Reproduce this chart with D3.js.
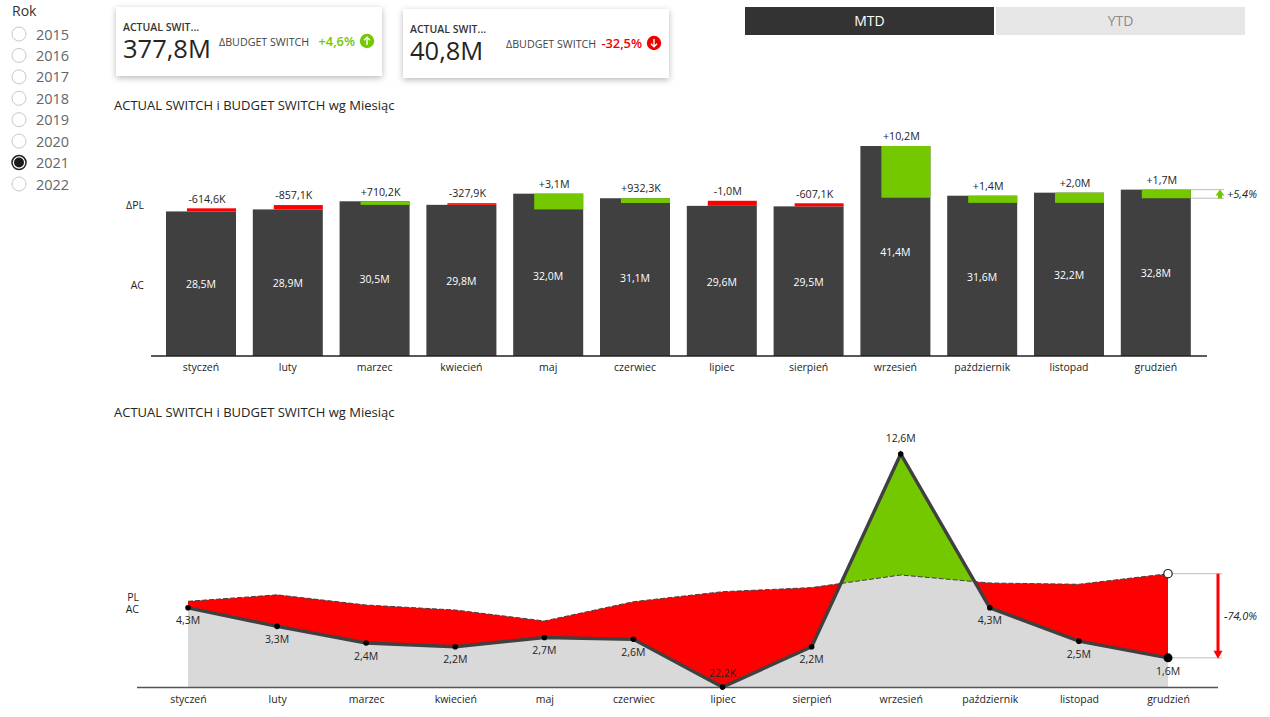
<!DOCTYPE html>
<html lang="pl">
<head>
    <meta charset="UTF-8">
    <title>ACTUAL SWITCH i BUDGET SWITCH</title>
    <script src="https://d3js.org/d3.v7.min.js"></script>
    <style>
        html, body { margin: 0; padding: 0; background: #fff; overflow: hidden; }
        svg { display: block; font-family: "Open Sans", "Noto Sans", sans-serif; }
    </style>
</head>
<body>
    <svg id="chart" width="1270" height="717"></svg>

    <script>
        const months = ["styczeń", "luty", "marzec", "kwiecień", "maj", "czerwiec", "lipiec", "sierpień", "wrzesień", "październik", "listopad", "grudzień"];
        const years = [2015, 2016, 2017, 2018, 2019, 2020, 2021, 2022];
        const selectedYear = 2021;

        // top chart, in millions
        const acMtd = [28.5, 28.9, 30.5, 29.8, 32.0, 31.1, 29.6, 29.5, 41.4, 31.6, 32.2, 32.8];
        const deltaPl = [-0.6146, -0.8571, 0.7102, -0.3279, 3.1, 0.9323, -1.0, -0.6071, 10.2, 1.4, 2.0, 1.7];

        // bottom chart, in millions
        const acLine = [4.3, 3.3, 2.4, 2.2, 2.7, 2.6, 0.0222, 2.2, 12.6, 4.3, 2.5, 1.6];
        const plLine = [4.65, 5.0, 4.45, 4.18, 3.59, 4.63, 5.17, 5.39, 6.07, 5.64, 5.57, 6.14];

        const green = "#74c800", red = "#ff0000", dark = "#404040", grey = "#d9d9d9";
        const svg = d3.select("#chart");

        const comma = s => s.replace(".", ",");
        const fmtM = v => comma(Math.abs(v) < 0.1 ? (v * 1000).toFixed(1) + "K" : v.toFixed(1) + "M");
        const fmtDelta = v => (v > 0 ? "+" : "-") + comma(Math.abs(v) < 1 ? (Math.abs(v) * 1000).toFixed(1) + "K" : Math.abs(v).toFixed(1) + "M");

        function label(x, y, str, size, opts = {}) {
            return svg.append("text")
                .attr("x", x)
                .attr("y", y)
                .attr("dy", "0.35em")
                .attr("text-anchor", opts.anchor || "start")
                .attr("font-size", size)
                .attr("font-style", opts.italic ? "italic" : null)
                .attr("font-weight", opts.weight || null)
                .attr("fill", opts.fill || "#252423")
                .text(str);
        }

        // shadow for the cards
        const shadow = svg.append("defs").append("filter")
            .attr("id", "card-shadow")
            .attr("x", "-5%").attr("y", "-10%").attr("width", "110%").attr("height", "125%");
        shadow.append("feDropShadow")
            .attr("dx", 0).attr("dy", 2).attr("stdDeviation", 3)
            .attr("flood-color", "#000").attr("flood-opacity", 0.28);

        // year slicer
        label(12, 11, "Rok", 14, { fill: "#333" });
        const yearY = d3.scalePoint().domain(years).range([34, 184]);
        years.forEach(year => {
            const on = year === selectedYear;
            svg.append("circle")
                .attr("cx", 19).attr("cy", yearY(year)).attr("r", 7)
                .attr("fill", "#fff")
                .attr("stroke", on ? "#222" : "#c8c8c8")
                .attr("stroke-width", on ? 1.5 : 1);
            if (on) svg.append("circle").attr("cx", 19).attr("cy", yearY(year)).attr("r", 5).attr("fill", "#1a1a1a");
            label(36, yearY(year) + 0.5, year, 14.5, { fill: "#666" });
        });

        // kpi cards
        function card(x, y, value, delta, color, up) {
            svg.append("rect")
                .attr("x", x).attr("y", y).attr("width", 266).attr("height", 69)
                .attr("fill", "#fff").attr("filter", "url(#card-shadow)");
            label(x + 7, y + 20, "ACTUAL SWIT...", 10.5, { fill: "#333", weight: 600 });
            label(x + 7, y + 42, value, 25.5, { fill: "#252423" });
            label(x + 103, y + 35, "ΔBUDGET SWITCH", 10.7, { fill: "#444" });
            label(x + 239, y + 35, delta, 12.8, { fill: color, anchor: "end", weight: 600 });
            const cx = x + 251, cy = y + 34;
            svg.append("circle").attr("cx", cx).attr("cy", cy).attr("r", 7.2).attr("fill", color);
            const d = up ? 1 : -1;
            svg.append("path")
                .attr("d", `M${cx},${cy + 4 * d}V${cy - 3.5 * d}M${cx - 3},${cy - 0.8 * d}L${cx},${cy - 3.8 * d}L${cx + 3},${cy - 0.8 * d}`)
                .attr("fill", "none").attr("stroke", "#fff").attr("stroke-width", 1.4);
        }
        card(116, 7, "377,8M", "+4,6%", green, true);
        card(403, 9, "40,8M", "-32,5%", "#ee0000", false);

        // period toggle
        svg.append("rect").attr("x", 745).attr("y", 7).attr("width", 249).attr("height", 28).attr("fill", "#333");
        svg.append("rect").attr("x", 996).attr("y", 7).attr("width", 249).attr("height", 28).attr("fill", "#e6e6e6");
        label(869.5, 21, "MTD", 14, { fill: "#fff", anchor: "middle" });
        label(1120.5, 21, "YTD", 14, { fill: "#8a8a8a", anchor: "middle" });

        // chart titles
        label(114, 105, "ACTUAL SWITCH i BUDGET SWITCH wg Miesiąc", 13, { fill: "#252423" });
        label(114, 412, "ACTUAL SWITCH i BUDGET SWITCH wg Miesiąc", 13, { fill: "#252423" });

        // ---- top chart ----
        const xBar = d3.scaleBand().domain(months).range([157.6, 1199.2]).paddingInner(0.1935).paddingOuter(0.0967);
        const yBar = d3.scaleLinear().domain([0, 41.4]).range([356, 146]);
        const barInset = 21;

        months.forEach((m, i) => {
            const x = xBar(m), w = xBar.bandwidth(), barTop = yBar(acMtd[i]), d = deltaPl[i];
            svg.append("rect")
                .attr("x", x).attr("y", barTop).attr("width", w).attr("height", yBar(0) - barTop)
                .attr("fill", dark);
            const other = yBar(acMtd[i] - d);
            svg.append("rect")
                .attr("x", x + barInset).attr("y", Math.min(barTop, other))
                .attr("width", w - barInset).attr("height", Math.abs(other - barTop))
                .attr("fill", d > 0 ? green : red);
            label(x + w / 2 + 6, Math.min(barTop, other) - 9.5, fmtDelta(d), 10.7, { anchor: "middle" });
            label(x + w / 2, (barTop + yBar(0)) / 2 + 1, fmtM(acMtd[i]), 10.5, { anchor: "middle", fill: "#fff", weight: 500 });
        });

        const axisTop = svg.append("g")
            .attr("transform", `translate(0,${yBar(0)})`)
            .attr("font-family", null)
            .call(d3.axisBottom(xBar).tickSize(0).tickPadding(8));
        axisTop.attr("font-family", null).attr("font-size", 10.5);
        axisTop.select(".domain").remove();
        axisTop.selectAll("text").attr("fill", "#252423");
        svg.append("line").attr("x1", 151).attr("x2", 1207).attr("y1", yBar(0)).attr("y2", yBar(0)).attr("stroke", "#222").attr("stroke-width", 1.5);

        label(144, 205, "ΔPL", 10.5, { anchor: "end" });
        label(144, 285, "AC", 10.5, { anchor: "end" });

        // yearly delta marker right of the last bar
        const lastTop = yBar(acMtd[11]), lastPl = yBar(acMtd[11] - deltaPl[11]);
        [lastTop, lastPl].forEach(y => {
            svg.append("line").attr("x1", xBar(months[11]) + xBar.bandwidth()).attr("x2", 1224)
                .attr("y1", y).attr("y2", y).attr("stroke", "#bdbdbd").attr("stroke-width", 1);
        });
        svg.append("path")
            .attr("d", `M1220,${lastTop}l4.5,6h-2.5v3h-4v-3h-2.5z`)
            .attr("fill", green);
        label(1227, (lastTop + lastPl) / 2, "+5,4%", 11, { italic: true });

        // ---- bottom chart ----
        const xLine = d3.scalePoint().domain(months).range([188, 1168]);
        const yLine = d3.scaleLinear().domain([0, 12.6]).range([687.5, 454]);
        const plotTop = 430, floor = yLine(0);

        const linePath = d3.line().x((d, i) => xLine(months[i])).y(d => yLine(d));
        const belowArea = d3.area().x((d, i) => xLine(months[i])).y0(floor).y1(d => yLine(d));
        const aboveArea = d3.area().x((d, i) => xLine(months[i])).y0(plotTop).y1(d => yLine(d));

        const defs = svg.select("defs");
        defs.append("clipPath").attr("id", "below-pl").append("path").attr("d", belowArea(plLine));
        defs.append("clipPath").attr("id", "above-pl").append("path").attr("d", aboveArea(plLine));

        svg.append("path").attr("d", belowArea(acLine)).attr("fill", grey).attr("clip-path", "url(#below-pl)");
        svg.append("path").attr("d", belowArea(acLine)).attr("fill", green).attr("clip-path", "url(#above-pl)");
        svg.append("path").attr("d", aboveArea(acLine)).attr("fill", red).attr("clip-path", "url(#below-pl)");

        svg.append("path").attr("d", linePath(plLine))
            .attr("fill", "none").attr("stroke", dark).attr("stroke-width", 1).attr("stroke-dasharray", "5,2");
        svg.append("path").attr("d", linePath(acLine))
            .attr("fill", "none").attr("stroke", dark).attr("stroke-width", 3.4);

        const axisBottom = svg.append("g")
            .attr("transform", `translate(0,${floor})`)
            .call(d3.axisBottom(xLine).tickSize(0).tickPadding(8));
        axisBottom.attr("font-family", null).attr("font-size", 10.5);
        axisBottom.select(".domain").remove();
        axisBottom.selectAll("text").attr("fill", "#252423");
        svg.append("line").attr("x1", 137).attr("x2", 1218).attr("y1", floor).attr("y2", floor).attr("stroke", "#555").attr("stroke-width", 1.5);

        // variance bracket on the right
        const lastAc = yLine(acLine[11]), lastPlan = yLine(plLine[11]), lastX = xLine(months[11]);
        [lastAc, lastPlan].forEach(y => {
            svg.append("line").attr("x1", lastX).attr("x2", 1222).attr("y1", y).attr("y2", y).attr("stroke", "#bdbdbd");
        });
        svg.append("line").attr("x1", 1218).attr("x2", 1218).attr("y1", lastPlan).attr("y2", lastAc - 6)
            .attr("stroke", red).attr("stroke-width", 3);
        svg.append("path").attr("d", `M1213.5,${lastAc - 7}h9l-4.5,8z`).attr("fill", red);
        label(1224, (lastAc + lastPlan) / 2, "-74,0%", 11, { italic: true });

        months.forEach((m, i) => {
            const x = xLine(m), y = yLine(acLine[i]);
            svg.append("circle").attr("cx", x).attr("cy", y).attr("r", i === 11 ? 4.5 : 2.8).attr("fill", "#000");
            const over = i === 6 || i === 8;
            label(x, over ? y - (i === 8 ? 16 : 14) : y + 13, fmtM(acLine[i]), 10.5, { anchor: "middle", fill: "#252423" });
        });
        svg.append("circle").attr("cx", lastX).attr("cy", lastPlan).attr("r", 4.2)
            .attr("fill", "#fff").attr("stroke", "#222").attr("stroke-width", 1.2);

        label(139, 597, "PL", 10.5, { anchor: "end" });
        label(139, 609, "AC", 10.5, { anchor: "end" });
    </script>
</body>
</html>
